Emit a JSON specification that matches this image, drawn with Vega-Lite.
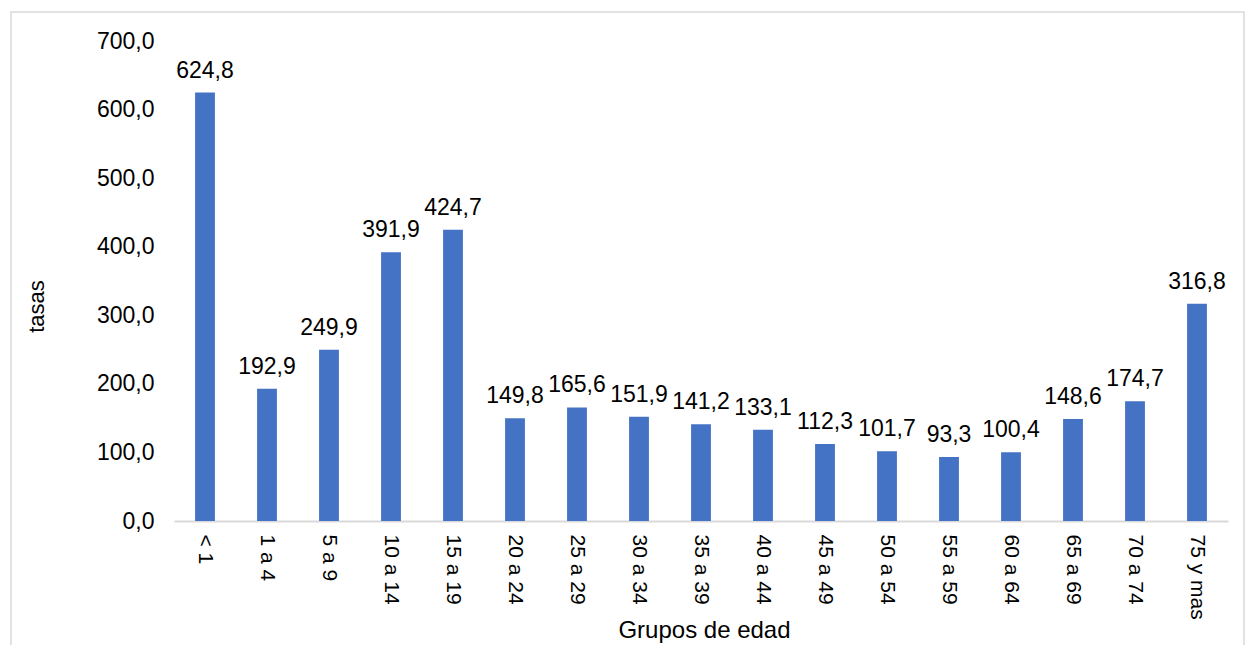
{
  "$schema": "https://vega.github.io/schema/vega-lite/v6.json",
  "autosize": "none",
  "width": 1233,
  "height": 640,
  "padding": {"left": 11, "top": 12, "right": 1, "bottom": 0},
  "background": "white",
  "config": {
    "locale": {"number": {"decimal": ",", "thousands": ".", "grouping": [3], "currency": ["", ""]}},
    "view": {"stroke": "#d9d9d9", "strokeWidth": 1.5},
    "font": "Liberation Sans"
  },
  "data": {
    "values": [
      {"grupo": "< 1", "tasa": 624.8},
      {"grupo": "1 a 4", "tasa": 192.9},
      {"grupo": "5 a 9", "tasa": 249.9},
      {"grupo": "10 a 14", "tasa": 391.9},
      {"grupo": "15 a 19", "tasa": 424.7},
      {"grupo": "20 a 24", "tasa": 149.8},
      {"grupo": "25 a 29", "tasa": 165.6},
      {"grupo": "30 a 34", "tasa": 151.9},
      {"grupo": "35 a 39", "tasa": 141.2},
      {"grupo": "40 a 44", "tasa": 133.1},
      {"grupo": "45 a 49", "tasa": 112.3},
      {"grupo": "50 a 54", "tasa": 101.7},
      {"grupo": "55 a 59", "tasa": 93.3},
      {"grupo": "60 a 64", "tasa": 100.4},
      {"grupo": "65 a 69", "tasa": 148.6},
      {"grupo": "70 a 74", "tasa": 174.7},
      {"grupo": "75 y mas", "tasa": 316.8}
    ]
  },
  "encoding": {
    "x": {
      "field": "grupo",
      "type": "nominal",
      "sort": null,
      "scale": {"range": [163, 1217], "paddingInner": 0.68, "paddingOuter": 0.34},
      "axis": {
        "orient": "bottom",
        "offset": -131,
        "title": "Grupos de edad",
        "titleFontSize": 24,
        "titleFontWeight": "normal",
        "titleColor": "#000000",
        "titleX": 693,
        "titleY": 109,
        "titleBaseline": "middle",
        "titleAlign": "center",
        "labelAngle": 90,
        "labelAlign": "left",
        "labelBaseline": "middle",
        "labelPadding": 13,
        "labelFontSize": 21,
        "labelColor": "#000000",
        "ticks": false,
        "domainColor": "#d9d9d9",
        "domainWidth": 2,
        "grid": false
      }
    },
    "y": {
      "field": "tasa",
      "type": "quantitative",
      "scale": {"domain": [0, 700], "range": [509, 29], "nice": false},
      "axis": {
        "offset": -163,
        "values": [0, 100, 200, 300, 400, 500, 600, 700],
        "format": ".1f",
        "title": "tasas",
        "titleFontSize": 22,
        "titleFontWeight": "normal",
        "titleColor": "#000000",
        "titleX": -138,
        "titleY": 294,
        "titleAngle": -90,
        "titleAlign": "center",
        "titleBaseline": "middle",
        "labelFontSize": 23,
        "labelColor": "#000000",
        "labelPadding": 20,
        "ticks": false,
        "domain": false,
        "grid": false
      }
    }
  },
  "layer": [
    {"mark": {"type": "bar", "color": "#4472C4"}},
    {
      "mark": {"type": "text", "baseline": "alphabetic", "dy": -15, "fontSize": 23, "color": "#000000"},
      "encoding": {"text": {"field": "tasa", "type": "quantitative", "format": ".1f"}}
    }
  ]
}
